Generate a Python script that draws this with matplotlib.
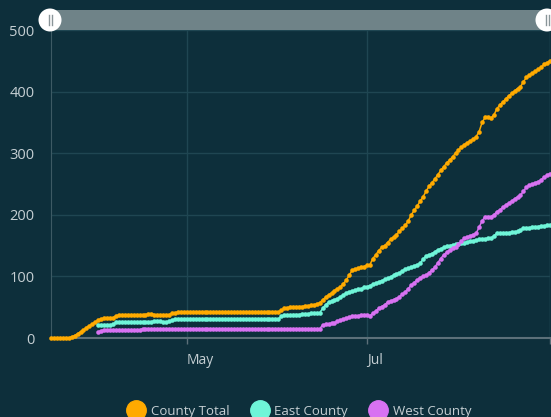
"""Cumulative cases by county region, dark dashboard style."""

from datetime import date, timedelta

import matplotlib
matplotlib.use("Agg")
import matplotlib.dates as mdates
import matplotlib.pyplot as plt
from matplotlib.lines import Line2D
from matplotlib.patches import Ellipse, Rectangle

START = date(2020, 3, 16)

# daily values, index 0 = Mar 16
county_total = (
    [0] * 7
    + [2, 4, 7, 10, 13, 17, 20, 23, 26, 29]
    + [31, 32, 32, 32, 33]
    + [36, 37, 37, 37, 37, 37, 37, 37, 37, 37]
    + [38, 39, 39, 38, 37]
    + [37, 37, 37, 38, 40, 41]
    + [42] * 35
    + [45, 48, 49, 50, 50, 50, 51, 51, 52, 52, 53, 54, 55]
    + [57, 62, 66, 70, 73, 77, 80, 83, 88, 94, 102, 110, 112, 113, 115, 116]
    + [118, 119, 129, 135, 142, 147, 150, 155, 160, 164, 168, 173, 178, 183,
       190, 200, 207, 214, 222]
    + [229, 238, 246, 252, 258, 265, 272, 278, 284, 289, 294, 300, 305, 310,
       314, 317, 320, 323, 327]
    + [335, 350, 358, 359, 357, 362, 372, 378, 383, 388, 393, 397, 401, 405,
       408, 416, 423, 427, 430, 433, 436, 440, 444, 447, 450]
)

# east and west start on Apr 1 (index 16)
east_county = (
    [21, 21, 21, 21, 21, 22]
    + [26] * 13
    + [28, 28, 27]
    + [26, 26, 27, 29, 31]
    + [31] * 35
    + [35, 37, 37, 37, 38, 38, 38, 39, 39, 39, 40, 40, 40]
    + [41, 48, 54, 58, 60, 62, 64, 67, 70, 73, 75, 76, 78, 79, 80, 82]
    + [83, 85, 87, 89, 91, 93, 95, 97, 99, 102, 104, 106, 109, 112, 113, 115,
       117, 119, 121]
    + [128, 133, 135, 137, 140, 143, 145, 147, 149, 150, 151, 152, 153, 154,
       155, 156, 157, 158, 159]
    + [160, 160, 161, 162, 162, 166, 170, 170, 170, 171, 171, 172, 172, 173,
       175, 178, 178, 179, 180, 180, 181, 182, 182, 183, 183]
)

west_county = (
    [10, 12]
    + [13] * 13
    + [15] * 61
    + [21, 22, 23, 24, 25, 27, 29, 31, 32, 34, 35, 36, 36, 37, 37]
    + [38, 36, 40, 44, 48, 51, 54, 58, 60, 62, 64, 67, 71, 75, 80, 86, 90,
       94, 98]
    + [100, 102, 106, 110, 115, 122, 129, 135, 139, 143, 146, 148, 152, 157,
       162, 164, 166, 168, 170]
    + [180, 190, 197, 197, 197, 200, 205, 208, 212, 216, 219, 222, 226, 229,
       232, 238, 245, 248, 250, 252, 254, 257, 261, 264, 267]
)

series_names = ["County Total", "East County", "West County"]
series_colors = ["#ffaa00", "#6ff5d8", "#d872f2"]
y_ticks = [0, 100, 200, 300, 400, 500]

BG = "#0d2f3b"
GRID = "#1f4652"
TEXT = "#c5cfd3"

plt.rcParams["font.family"] = ["Open Sans", "DejaVu Sans"]

W, H = 551, 417
fig = plt.figure(figsize=(W / 100, H / 100), dpi=100, facecolor=BG)
ax = fig.add_axes([51 / W, (H - 338) / H, 499 / W, 308 / H])
ax.set_facecolor(BG)

all_series = [county_total, east_county, west_county]
offsets = [0, 16, 16]
for vals, off, color in zip(all_series, offsets, series_colors):
    days = [START + timedelta(days=off + i) for i in range(len(vals))]
    ax.plot(days, vals, color=color, lw=1.1, marker="o", ms=3.3,
            mec=color, mew=0, zorder=3, clip_on=False)

ax.set_xlim(START, date(2020, 9, 1))
ax.set_ylim(0, 500)

ax.set_xticks([date(2020, 5, 1), date(2020, 7, 1), date(2020, 9, 1)])
ax.xaxis.set_major_formatter(mdates.DateFormatter("%b"))
ax.set_xticklabels(["May", "Jul", ""])
ax.set_yticks(y_ticks)
ax.tick_params(axis="x", colors="#5c7079", labelcolor=TEXT, length=4,
               width=1, pad=7, labelsize=10)
ax.tick_params(axis="y", length=0, pad=12, labelcolor=TEXT, labelsize=10.5)
for lbl in ax.get_xticklabels():
    lbl.set_horizontalalignment("left")

ax.grid(True, color=GRID, lw=1)
for side in ["top", "right"]:
    ax.spines[side].set_visible(False)
ax.spines["left"].set_color("#3d5a64")
ax.spines["bottom"].set_color("#5c7079")
ax.spines["bottom"].set_linewidth(1.5)
ax.axvline(date(2020, 9, 1), color=GRID, lw=1)

# range slider on top of the plot
fig.add_artist(Rectangle((51 / W, (H - 30) / H), 496 / W, 20 / H,
                         transform=fig.transFigure, color="#6f8388", lw=0))
for cx in [50, 547]:
    fig.add_artist(Ellipse((cx / W, (H - 20) / H), 23 / W, 23 / H,
                           transform=fig.transFigure, color="white", lw=0))
    for dx in [-1.5, 1.5]:
        fig.add_artist(Line2D([(cx + dx) / W] * 2, [(H - 25) / H, (H - 15) / H],
                              transform=fig.transFigure, color="#8a9599",
                              lw=1))

handles = [Line2D([], [], ls="none", marker="o", ms=14, color=c)
           for c in series_colors]
fig.legend(handles, series_names, loc="lower center", ncol=3, frameon=False,
           bbox_to_anchor=(0.545, -0.03), labelcolor=TEXT, fontsize=9.5,
           handletextpad=0.6, columnspacing=1.8, handlelength=1.0)

fig.savefig("out.png", dpi=100, facecolor=BG)
